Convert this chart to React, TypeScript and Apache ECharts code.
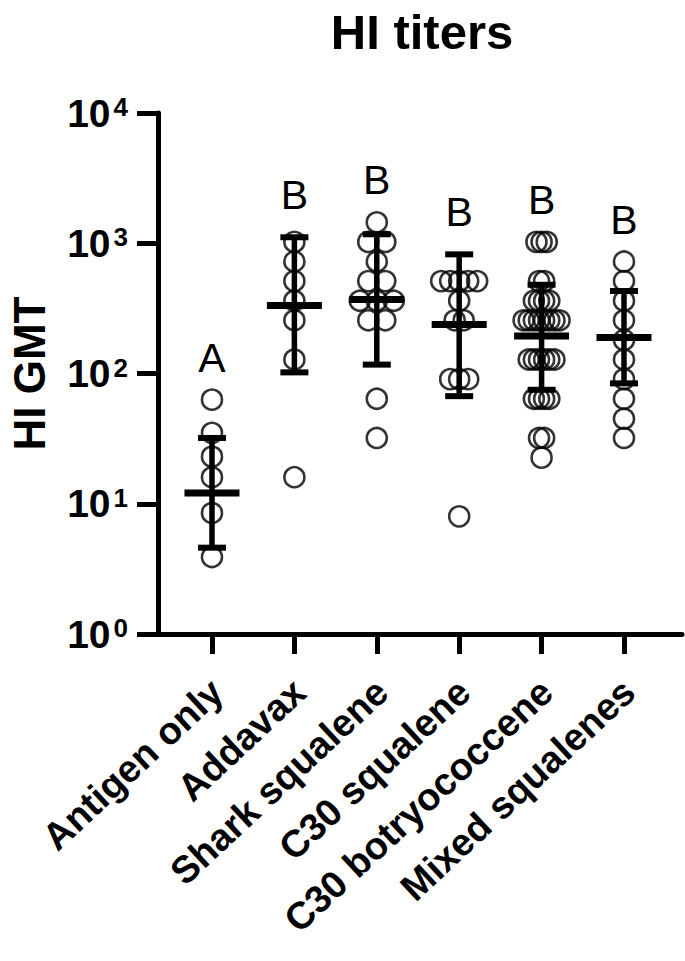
import React, { useEffect, useRef } from "react";
import * as echarts from "echarts";

const categories = [
  "Antigen only",
  "Addavax",
  "Shark squalene",
  "C30 squalene",
  "C30 botryococcene",
  "Mixed squalenes",
];

const antigenOnly = [63, 35, 23, 16, 8.5, 3.9];
const addavax = [1024, 724, 512, 362, 256, 128, 16];
const sharkSqualene = [1448, 1024, 1024, 724, 512, 512, 362, 362, 362, 256, 256, 64, 32];
const c30Squalene = [512, 512, 512, 512, 512, 362, 256, 256, 90.5, 90.5, 90.5, 8];
const c30Botryococcene = [
  1024, 1024, 1024, 512, 512, 362, 362, 362, 362,
  256, 256, 256, 256, 256, 256, 256, 256,
  128, 128, 128, 128, 128, 128, 64, 64, 64, 64, 32, 32, 22.6,
];
const mixedSqualenes = [724, 512, 362, 256, 181, 128, 90.5, 64, 45, 32];

const centerValues = [12.1, 333, 370, 238, 194, 189];
const lowerValues = [4.6, 102, 117, 67, 75, 84];
const upperValues = [32, 1112, 1172, 822, 480, 430];
const letters = ["A", "B", "B", "B", "B", "B"];

const yTickValues = [1, 10, 100, 1000, 10000];

const groups = [antigenOnly, addavax, sharkSqualene, c30Squalene, c30Botryococcene, mixedSqualenes];

const FONT = '"Liberation Sans", Arial, sans-serif';
const X_MIN = -0.655;
const X_MAX = 5.704;
const GRID_LEFT = 158;
const GRID_RIGHT = 3;
const CHART_W = 685;
const PX_PER_UNIT = (CHART_W - GRID_LEFT - GRID_RIGHT) / (X_MAX - X_MIN);
const LABEL_SHIFT = 0.06;

function buildPoints() {
  const pts: number[][] = [];
  groups.forEach((vals, gi) => {
    const counts: Record<string, number> = {};
    vals.forEach((v) => (counts[v] = (counts[v] || 0) + 1));
    const maxDup = Math.max(...Object.values(counts));
    const spacingPx = maxDup > 1 ? Math.min(17, 36 / (maxDup - 1)) : 0;
    const seen: Record<string, number> = {};
    vals.forEach((v) => {
      const n = counts[v];
      const k = seen[v] || 0;
      seen[v] = k + 1;
      const offPx = (k - (n - 1) / 2) * spacingPx;
      pts.push([gi + offPx / PX_PER_UNIT, v]);
    });
  });
  return pts;
}

export default function App() {
  const ref = useRef<HTMLDivElement>(null);
  useEffect(() => {
    if (!ref.current) return;
    const chart = echarts.init(ref.current, null, { renderer: "svg" });
    const summary = categories.map((_, i) => [
      i,
      centerValues[i],
      lowerValues[i],
      upperValues[i],
      Math.max(upperValues[i], ...groups[i]),
    ]);
    chart.setOption({
      animation: false,
      backgroundColor: "#fff",
      graphic: [
        {
          type: "text",
          x: 422,
          y: 32,
          style: {
            text: "HI titers",
            font: `bold 49px ${FONT}`,
            fill: "#000",
            textAlign: "center",
            textVerticalAlign: "middle",
          },
        },
      ],
      grid: {
        left: GRID_LEFT,
        right: GRID_RIGHT,
        top: 113,
        bottom: 327,
        containLabel: false,
        outerBoundsMode: "none",
      },
      xAxis: {
        type: "value",
        min: X_MIN,
        max: X_MAX,
        splitLine: { show: false },
        axisLine: { show: true, onZero: false, lineStyle: { color: "#000", width: 5 } },
        axisTick: {
          show: true,
          customValues: [0, 1, 2, 3, 4, 5],
          length: 20,
          lineStyle: { color: "#000", width: 5 },
        },
        axisLabel: {
          customValues: categories.map((_, i) => i + LABEL_SHIFT),
          formatter: (v: number) => categories[Math.round(v - LABEL_SHIFT)] ?? "",
          rotate: 43,
          margin: 52,
          color: "#000",
          fontSize: 38,
          fontWeight: "bold",
          fontFamily: FONT,
        },
      },
      yAxis: {
        type: "log",
        logBase: 10,
        min: yTickValues[0],
        max: yTickValues[yTickValues.length - 1],
        interval: 1,
        name: "HI GMT",
        nameLocation: "middle",
        nameRotate: 90,
        nameGap: 107,
        nameTextStyle: { fontSize: 44, fontWeight: "bold", color: "#000", fontFamily: FONT },
        splitLine: { show: false },
        minorTick: { show: false },
        axisLine: { show: true, onZero: false, lineStyle: { color: "#000", width: 5 } },
        axisTick: { show: true, length: 21, lineStyle: { color: "#000", width: 5 } },
        axisLabel: {
          margin: 30,
          formatter: (v: number) => `{b|10}{s|${Math.round(Math.log10(v))}}`,
          rich: {
            b: { fontSize: 39, fontWeight: "bold", fontFamily: FONT, color: "#000", lineHeight: 38 },
            s: {
              fontSize: 26,
              fontWeight: "bold",
              fontFamily: FONT,
              color: "#000",
              verticalAlign: "top",
              lineHeight: 26,
              padding: [0, 0, 0, 3],
            },
          },
        },
      },
      series: [
        {
          type: "scatter",
          data: buildPoints(),
          symbol: "circle",
          symbolSize: 20,
          itemStyle: { color: "rgba(0,0,0,0)", borderColor: "#000", borderWidth: 2.6 },
          z: 2,
        },
        {
          type: "custom",
          data: summary,
          z: 3,
          renderItem: (params: any, api: any) => {
            const x = api.value(0);
            const c = api.coord([x, api.value(1)]);
            const lo = api.coord([x, api.value(2)]);
            const hi = api.coord([x, api.value(3)]);
            const top = api.coord([x, api.value(4)]);
            const black = { stroke: "#000", fill: "none" };
            return {
              type: "group",
              children: [
                { type: "line", shape: { x1: c[0], y1: lo[1], x2: c[0], y2: hi[1] }, style: { ...black, lineWidth: 5.5 } },
                { type: "line", shape: { x1: c[0] - 14, y1: lo[1], x2: c[0] + 14, y2: lo[1] }, style: { ...black, lineWidth: 6 } },
                { type: "line", shape: { x1: c[0] - 14, y1: hi[1], x2: c[0] + 14, y2: hi[1] }, style: { ...black, lineWidth: 6 } },
                { type: "line", shape: { x1: c[0] - 27.5, y1: c[1], x2: c[0] + 27.5, y2: c[1] }, style: { ...black, lineWidth: 7 } },
                {
                  type: "text",
                  x: c[0],
                  y: top[1] - 42,
                  style: {
                    text: letters[params.dataIndex],
                    font: `41px ${FONT}`,
                    fill: "#000",
                    textAlign: "center",
                    textVerticalAlign: "middle",
                  },
                },
              ],
            };
          },
        },
      ],
    });
    return () => chart.dispose();
  }, []);
  return (
    <div
      ref={ref}
      style={{ position: "fixed", left: 0, top: 0, width: 685, height: 961, background: "#fff" }}
    />
  );
}
